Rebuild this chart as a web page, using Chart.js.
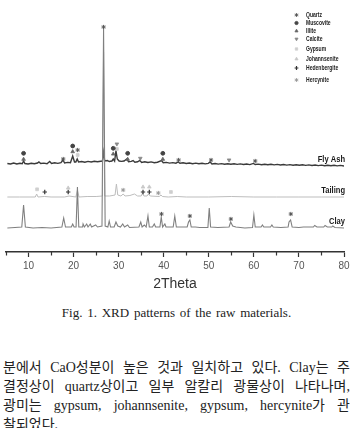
<!DOCTYPE html>
<html lang="ko"><head><meta charset="utf-8">
<script src="https://cdn.jsdelivr.net/npm/chart.js@4.4.1/dist/chart.umd.min.js"></script>
<style>
html,body{margin:0;padding:0;background:#fff;width:353px;height:428px;overflow:hidden;}
#wrap{position:absolute;left:0;top:0;width:353px;height:295px;}
#c{width:353px;height:295px;display:block;}
#cap{position:absolute;left:0;top:306px;width:353px;text-align:center;font-size:13px;font-family:"Liberation Serif","Times New Roman",serif;color:#222;line-height:14px;word-spacing:1.5px;}
.ln{position:absolute;left:3px;width:347px;font-size:14px;font-family:"Liberation Serif","Noto Sans CJK KR",serif;color:#222;line-height:19px;height:19px;overflow:visible;}
.j{text-align:justify;text-align-last:justify;}
</style></head><body>
<div id="wrap"><canvas id="c" width="353" height="295"></canvas></div>
<div id="cap">Fig. 1. XRD patterns of the raw materials.</div>
<div class="ln j" style="top:358px">분에서 CaO성분이 높은 것과 일치하고 있다. Clay는 주</div>
<div class="ln j" style="top:377px">결정상이 quartz상이고 일부 알칼리 광물상이 나타나며,</div>
<div class="ln j" style="top:396px">광미는 gypsum, johannsenite, gypsum, hercynite가 관</div>
<div class="ln" style="top:415px">찰되었다.</div>
<script>
// ---- Series (2Theta, intensity in arbitrary units, stacked offsets included) ----
const seriesNames = ['Fly Ash', 'Tailing', 'Clay'];

const flyAshX = [5.3,6,6.7,7.4,8.1,8.6,8.9,9.2,9.9,10.6,11.3,12,12.3,12.7,13.4,14.1,14.7,15.1,15.8,16.5,17.2,17.65,18,18.7,19.3,19.8,20.2,20.5,20.8,21.1,21.8,22.5,23.2,23.9,24.6,25.3,26,26.4,26.65,26.9,27.5,27.9,28.5,28.8,29.1,29.4,29.7,30.1,30.6,31.2,31.8,32.2,32.8,33.2,33.6,34.2,34.7,35.1,35.8,36.5,37.2,37.9,38.6,39.5,39.9,40.6,41.3,42,42.7,43.2,43.6,44.3,45,45.7,46.4,47.1,47.8,48.5,49.2,49.9,50.3,50.7,51.4,52.1,52.8,53.5,54.2,54.9,55.6,56.3,57,57.7,58.4,59.1,59.9,60.3,61,61.7,62.4,63.1,63.8,64.5,65.2,65.9,66.6,67.3,68,68.7,69.4,70.1,70.8,71.5,72.2,72.9,73.6,74.3,75,75.7,76.4,77.1,77.8,78.5,79.2,80];
const flyAshY = [88.5,88,89,88,88.8,88.3,91,88.5,88,88.8,88.2,89,90,88.5,88.9,88.3,90.5,88.6,89.2,88.6,89.4,92,89,89.6,89.2,96,90,90,93,90,90.5,89.8,90.6,90,90.8,90.2,90.8,91,100,91,91.5,90.5,91,93,91,101,93,91,90.6,91,93,90.2,90.6,91.5,89.8,90.2,91.5,89.6,90.2,89.5,90.1,89.3,89.8,91.5,89.2,89.6,88.9,89.4,88.8,90,88.7,89.2,88.5,89,88.3,88.9,88.2,88.7,88.1,88.6,90,88,88.5,87.9,88.4,87.8,88.3,87.7,88.2,87.6,88.1,87.5,88,87.4,88.6,87.5,87.9,87.3,87.8,87.2,87.7,87.1,87.6,87,87.5,86.9,87.4,86.8,87.3,86.7,87.2,86.6,87.1,86.5,87,86.4,86.9,86.3,86.8,86.2,86.7,86.1,86.6,86];

const tailingX = [5.3,8,11.5,11.8,12.1,13.5,15,18,19,20.5,20.85,21.2,23,25,26.4,26.65,26.9,28,29.2,29.5,29.8,30.5,31,31.4,32.5,33.5,34.2,35,35.3,35.6,36.3,36.6,37,39,39.4,39.7,41,43,45,50,55,60,65,70,75,80];
const tailingY = [55,55,55,58,55,55.5,55,55,56,55,62,55,55.5,55.5,56,200,56,56,57,68,57,56,58,56,56.5,58,56,56,59,56,56,58,56,55.5,57,55.5,55,55.5,55,55,55.5,55,55,55,55,55];

const clayX = [5.3,7,8.5,8.9,9.3,11,13,15,17.4,17.8,18.2,19.5,19.8,20.1,20.55,20.85,21.15,22,22.1,22.4,22.9,23.2,23.7,24,24.9,25.3,26.3,26.65,27,27.6,27.9,28.2,29,29.4,29.8,30.4,30.9,31.3,32,32.4,34.5,34.9,35.2,35.7,36.1,36.5,36.8,37.5,37.9,38.2,39.15,39.45,39.75,40.25,40.5,42.1,42.45,42.8,45.2,45.5,45.8,46.1,47,48,49.8,50.1,50.4,52,54.5,54.85,55.3,56,58,59.7,60,60.3,61.6,61.9,62.2,63.7,64,64.3,66,67.6,67.8,68.15,68.5,70,71,73.2,73.5,74,75.5,75.8,76.3,77.3,77.5,78,80];
const clayY = [24,24.5,25,47,25,24,24.5,24,25,34,25,25,28,25,25,65,25,25,28,25,28,25,28,25,27,25,26,223,26,25,31,25,25,30,26,25,28,25,27,24.5,25,30,25,27,25,36,25,25,28,25,25,35,25,28,25,25,36,25,25,30,32,25,25,24.5,24.5,44,25,24.5,25,30,26,25,24,24.5,37,25,25,27,25,25,27,25,24.5,25,30,32,25,24.5,25,25,26.5,25,25,26.5,25,25,26,24.5,24];

// ---- Phase markers (2Theta, height) ----
const minerals = ['Quartz','Muscovite','Illite','Calcite','Gypsum','Johannsenite','Hedenbergite','Hercynite'];
const quartzX = [17.7,20.9,26.65,43.3,50.5,60.3,39.5,45.8,54.9,68.2];
const quartzY = [93,102,225,92,92,91,38,36,33,38];
const muscoviteX = [8.9,19.8,28.8,32.0,39.8];
const muscoviteY = [98.7,106,103.7,98.7,98.7];
const illiteX = [8.9,19.8,28.8,32.0,39.8];
const illiteY = [92.7,100.3,98,92.7,92.7];
const calciteX = [29.6,34.8,54.5];
const calciteY = [108,93.7,92];
const gypsumX = [20.9,29.6,11.9,41.6];
const gypsumY = [97,103,62.7,60];
const johannseniteX = [18.8,35.4,36.8];
const johannseniteY = [64,65,65];
const hedenbergiteX = [13.6,18.8,35.4,36.8];
const hedenbergiteY = [60,60,60,60];
const hercyniteX = [31.0,38.8];
const hercyniteY = [62,59];

const markerSets = [
  [quartzX, quartzY], [muscoviteX, muscoviteY], [illiteX, illiteY], [calciteX, calciteY],
  [gypsumX, gypsumY], [johannseniteX, johannseniteY], [hedenbergiteX, hedenbergiteY], [hercyniteX, hercyniteY]
];
const markerStyle = [
  {pointStyle:'star', radius:2.1, color:'#555', bw:1, rot:0},
  {pointStyle:'circle', radius:1.9, color:'#444', bw:1, rot:0},
  {pointStyle:'triangle', radius:2.1, color:'#666', bw:0.8, rot:0},
  {pointStyle:'triangle', radius:2.1, color:'#888', bw:0.8, rot:180},
  {pointStyle:'rect', radius:2, color:'#cfcfcf', bw:0.8, rot:0},
  {pointStyle:'triangle', radius:2.1, color:'#c8c8c8', bw:0.8, rot:0},
  {pointStyle:'cross', radius:2.2, color:'#333', bw:1.2, rot:0},
  {pointStyle:'star', radius:2.1, color:'#999', bw:1, rot:0}
];
const legendRowY = [15,23,31,39,49,59,68,80];

function pts(xs, ys){ return xs.map((x,i)=>({x:x, y:ys[i]})); }

const lineColors = ['#3a3a3a', '#bdbdbd', '#808080'];
const lineWidths = [1.4, 1, 1.1];
const seriesValues = [[flyAshX, flyAshY], [tailingX, tailingY], [clayX, clayY]];

const datasets = [];
seriesValues.forEach((s, i) => {
  datasets.push({type:'line', label:seriesNames[i], data:pts(s[0], s[1]), borderColor:lineColors[i],
    borderWidth:lineWidths[i], pointRadius:0, tension:0, fill:false, order: i===2 ? 5 : (i===1 ? 6 : 7)});
});
markerSets.forEach((m, i) => {
  const st = markerStyle[i];
  datasets.push({type:'scatter', label:minerals[i], data:pts(m[0], m[1]), showLine:false,
    pointStyle:st.pointStyle, pointRadius:st.radius, pointRotation:st.rot, pointBorderWidth:st.bw,
    pointBackgroundColor:st.color, pointBorderColor:st.color, order:0});
});

function squeezedText(ctx, text, x, y, sx){
  ctx.save(); ctx.translate(x, y); ctx.scale(sx, 1); ctx.fillText(text, 0, 0); ctx.restore();
}

const decor = {
  id:'decor',
  afterDraw(chart){
    const {ctx, scales:{x, y}} = chart;
    ctx.save();
    // minor ticks
    ctx.strokeStyle = '#333'; ctx.lineWidth = 1.2;
    for (let v = 5; v < 80; v += 10) {
      const px = Math.round(x.getPixelForValue(v)) + 0.5;
      ctx.beginPath(); ctx.moveTo(px, x.top); ctx.lineTo(px, x.top + 3.5); ctx.stroke();
    }
    // series labels
    ctx.font = 'bold 9px "Liberation Sans", Arial, sans-serif';
    ctx.fillStyle = '#1a1a1a'; ctx.textAlign = 'right'; ctx.textBaseline = 'middle';
    seriesValues.forEach((s, i) => {
      const ys = s[1]; const base = ys[ys.length - 1];
      squeezedText(ctx, seriesNames[i], x.getPixelForValue(80) + 1, y.getPixelForValue(base + 6), 0.84);
    });
    // legend
    ctx.font = 'bold 7px "Liberation Sans", Arial, sans-serif';
    ctx.textAlign = 'left';
    minerals.forEach((name, i) => {
      const st = markerStyle[i];
      ctx.fillStyle = st.color; ctx.strokeStyle = st.color; ctx.lineWidth = st.bw;
      Chart.helpers.drawPoint(ctx, {pointStyle:st.pointStyle, radius:st.radius - 0.3, rotation:st.rot, borderWidth:st.bw}, 296.5, legendRowY[i]);
      ctx.fillStyle = '#222';
      squeezedText(ctx, name, 306, legendRowY[i], 0.72);
    });
    ctx.restore();
  }
};

new Chart(document.getElementById('c'), {
  type:'line',
  data:{datasets:datasets},
  options:{
    responsive:false, animation:false, devicePixelRatio:1,
    layout:{padding:{left:6, right:9, top:10, bottom:0}},
    plugins:{legend:{display:false}, tooltip:{enabled:false}},
    scales:{
      x:{type:'linear', min:5, max:80,
        afterFit(s){ s.height = 43; },
        border:{display:true, color:'#333', width:1.6},
        grid:{drawOnChartArea:false, drawTicks:true, tickLength:5, tickWidth:1.2,
          tickColor: c => (c.tick && c.tick.value % 10 === 0) ? '#333' : 'rgba(0,0,0,0)'},
        ticks:{stepSize:5, autoSkip:false, maxRotation:0, padding:3, color:'#555',
          font:{size:10, family:'"Liberation Sans", Arial, sans-serif'},
          callback: v => (v % 10 === 0) ? String(v) : ''},
        title:{display:true, text:'2Theta', color:'#333', padding:{top:0, bottom:2},
          font:{size:14, family:'"Liberation Sans", Arial, sans-serif'}}
      },
      y:{display:false, min:0, max:242}
    }
  },
  plugins:[decor]
});
</script>
</body></html>
